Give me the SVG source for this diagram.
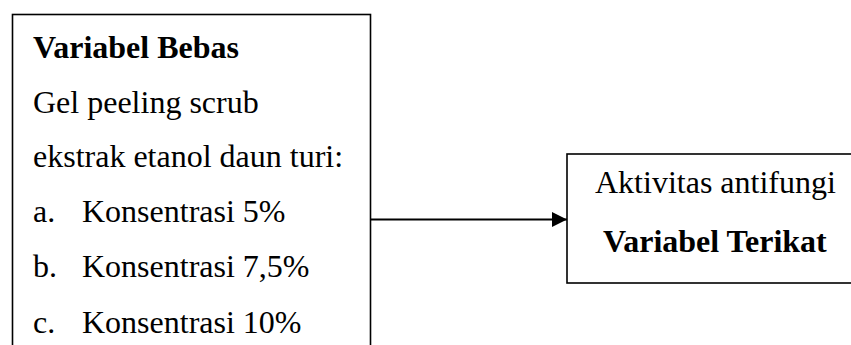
<svg xmlns="http://www.w3.org/2000/svg" width="851" height="345" viewBox="0 0 851 345">
<style>
.box{fill:#fff;stroke:#000;stroke-width:1.6}
.t{font-family:"Liberation Serif","Times New Roman",serif;font-size:32px;fill:#000}
.b{font-weight:bold}
.conn{stroke:#000;stroke-width:2;fill:none}
</style>
<defs>
<marker id="arr" markerUnits="userSpaceOnUse" markerWidth="16" markerHeight="16" refX="15" refY="7.5" orient="auto">
<path d="M0,0 L15,7.5 L0,15 Z" fill="#000"/>
</marker>
</defs>
<rect width="851" height="345" fill="#fff"/>
<g id="variabel-bebas">
<rect class="box" x="12.5" y="14.5" width="358" height="400"/>
<text class="t b" x="33" y="58">Variabel Bebas</text>
<text class="t" x="33" y="113">Gel peeling scrub</text>
<text class="t" x="33" y="167">ekstrak etanol daun turi:</text>
<text class="t" x="33" y="222">a.</text>
<text class="t" x="82" y="222">Konsentrasi 5%</text>
<text class="t" x="33" y="277">b.</text>
<text class="t" x="82" y="277">Konsentrasi 7,5%</text>
<text class="t" x="33" y="333">c.</text>
<text class="t" x="82" y="333">Konsentrasi 10%</text>
</g>
<g id="variabel-terikat">
<rect class="box" x="567" y="154" width="300" height="129"/>
<text class="t" x="595" y="193">Aktivitas antifungi</text>
<text class="t b" x="603" y="252">Variabel Terikat</text>
</g>
<g id="connectors">
<line class="conn" x1="371" y1="219.5" x2="567" y2="219.5" marker-end="url(#arr)"/>
</g>
</svg>
